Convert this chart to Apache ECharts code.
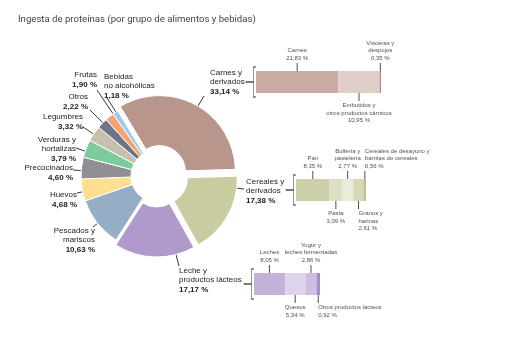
<!DOCTYPE html>
<html>
<head>
<meta charset="utf-8">
<script src="https://cdn.jsdelivr.net/npm/echarts@6/dist/echarts.min.js"></script>
<style>
    html, body { margin: 0; padding: 0; background: #fff; }
    #chart { width: 527px; height: 354px; }
</style>
</head>
<body>
<div id="chart"></div>
<script>
/* Ingesta de proteínas: anillo principal + tres desgloses en barra */

// grupos del anillo (en sentido horario desde Carnes)
const grupos = ['Carnes y\nderivados', 'Cereales y\nderivados', 'Leche y\nproductos lácteos',
    'Pescados y\nmariscos', 'Huevos', 'Precocinados', 'Verduras y\nhortalizas',
    'Legumbres', 'Otros', 'Frutas', 'Bebidas\nno alcohólicas'];
const valores = [33.14, 17.38, 17.17, 10.63, 4.68, 4.60, 3.79, 3.32, 2.22, 1.90, 1.18];

// desglose de carnes
const carnesSub = ['Carnes', 'Embutidos y\notros productos cárnicos', 'Vísceras y\ndespojos'];
const carnesVal = [21.83, 10.95, 0.35];

// desglose de cereales
const cerealesSub = ['Pan', 'Pasta', 'Bollería y\npastelería', 'Granos y\nharinas', 'Cereales de desayuno y\nbarritas de cereales'];
const cerealesVal = [8.35, 3.09, 2.77, 2.61, 0.56];

// desglose de leche
const lecheSub = ['Leches', 'Quesos', 'Yogur y\nleches fermentadas', 'Otros productos lácteos'];
const lecheVal = [8.05, 5.34, 2.86, 0.92];

/* estilos */
const FUENTE = '"Liberation Sans", Arial, sans-serif';
const TINTA = '#222';
const DESPLAZA = 5; // separación de los tres grupos grandes

const coloresGrupo = ['#b8968b', '#c9cba0', '#b09acb', '#95aec5', '#fde08f', '#909094',
    '#7ccb9c', '#c6c1ad', '#6e758a', '#f5a46f', '#9dc9ef'];

// etiquetas del anillo: [x, y superior, alineación, fin de la guía x, fin de la guía y]
const posEtiqueta = [
    [210, 68, 'left', 204, 96], [246, 177, 'left', 244, 189], [179, 266, 'left', 179, 266],
    [95, 226, 'right', 93, 227], [77, 190, 'right', 77, 193], [73, 163, 'right', 73, 170],
    [76, 135, 'right', 76, 148], [83, 112, 'right', 83, 127], [88, 92, 'right', 90, 110],
    [97, 70, 'right', 97, 90], [104, 72, 'left', 107, 98]
];

// cada desglose: rejilla, colores, lado de la marca y alineación del texto
const desgloses = [
    { nombres: carnesSub, vals: carnesVal, grid: { left: 256, top: 71, width: 125, height: 22 },
      colores: ['#c9aba3', '#e0cec9', '#b3887d'], arriba: [true, false, true],
      alinea: ['center', 'center', 'center'] },
    { nombres: cerealesSub, vals: cerealesVal, grid: { left: 296, top: 179, width: 70, height: 22 },
      colores: ['#cdcfa8', '#dedfc5', '#eaebd8', '#d5d7b7', '#bcbf90'], arriba: [true, false, true, false, true],
      alinea: ['center', 'center', 'center', 'left', 'left'] },
    { nombres: lecheSub, vals: lecheVal, grid: { left: 254, top: 273, width: 66, height: 22 },
      colores: ['#c2b1d9', '#ddd3ea', '#ccbee0', '#a98dca'], arriba: [true, false, true, false],
      alinea: ['center', 'center', 'center', 'left'] }
];

function pct(v) {
    return v.toFixed(2).replace('.', ',') + ' %';
}

function lineas(txt, tag) {
    return txt.split('\n').map(s => `{${tag}|${s}}`).join('\n');
}

const chartDom = document.getElementById('chart');
const chart = echarts.init(chartDom);

/*
    Punto del borde exterior del sector más cercano al final de la guía.
    Usa la disposición que calculó el propio ECharts para la serie visible.
*/
function inicioGuia(idx, fin, porDefecto) {
    let lay = null;
    try {
        lay = chart.getModel().getSeriesByIndex(0).getData().getItemLayout(idx);
    } catch (e) {
        lay = null;
    }
    if (!lay) return porDefecto;
    let a0 = Math.min(lay.startAngle, lay.endAngle);
    let a1 = Math.max(lay.startAngle, lay.endAngle);
    const mid = (a0 + a1) / 2;
    let cx = lay.cx, cy = lay.cy;
    if (idx < 3) {
        cx += Math.cos(mid) * DESPLAZA;
        cy += Math.sin(mid) * DESPLAZA;
    }
    let t = Math.atan2(fin[1] - cy, fin[0] - cx);
    while (t < mid - Math.PI) t += Math.PI * 2;
    while (t > mid + Math.PI) t -= Math.PI * 2;
    t = Math.max(a0, Math.min(a1, t));
    return [cx + Math.cos(t) * lay.r, cy + Math.sin(t) * lay.r];
}

const grids = [];
const xAxes = [];
const yAxes = [];
const series = [];

const anillo = {
    center: [157, 176],
    radius: [26, 76],
    startAngle: 121,
    clockwise: true
};

// anillo visible (con los tres grupos grandes separados)
series.push(Object.assign({
    type: 'pie',
    selectedMode: 'multiple',
    selectedOffset: DESPLAZA,
    silent: true,
    itemStyle: { borderColor: '#fff', borderWidth: 1 },
    label: { show: false },
    labelLine: { show: false },
    data: grupos.map((g, i) => ({
        name: g,
        value: valores[i],
        selected: i < 3,
        itemStyle: { color: coloresGrupo[i] }
    }))
}, anillo));

// mismo anillo, transparente, solo para etiquetas y guías
series.push(Object.assign({
    type: 'pie',
    silent: true,
    avoidLabelOverlap: false,
    itemStyle: { color: 'rgba(0,0,0,0)', borderWidth: 0 },
    data: grupos.map((g, i) => ({ name: g, value: valores[i] })),
    label: {
        show: true,
        position: 'outside',
        formatter: p => lineas(p.name, 'n') + '\n' + `{v|${pct(p.value)}}`,
        rich: {
            n: { fontFamily: FUENTE, fontSize: 8, lineHeight: 9.5, color: TINTA },
            v: { fontFamily: FUENTE, fontSize: 8, lineHeight: 10, fontWeight: 'bold', color: TINTA }
        }
    },
    labelLine: { show: true, length: 6, length2: 4, lineStyle: { color: TINTA, width: 0.9 } },
    labelLayout: function (p) {
        const q = posEtiqueta[p.dataIndex];
        const fin = [q[3], q[4]];
        const ini = inicioGuia(p.dataIndex, fin, p.labelLinePoints[0]);
        return {
            x: q[0], y: q[1], align: q[2], verticalAlign: 'top',
            labelLinePoints: [ini, fin]
        };
    }
}, anillo));

desgloses.forEach((d, g) => {
    const total = d.vals.reduce((a, b) => a + b, 0);
    grids.push(d.grid);
    xAxes.push({ type: 'value', gridIndex: g, min: 0, max: total, show: false });
    yAxes.push({ type: 'category', gridIndex: g, data: ['x'], show: false });

    // segmentos de la barra
    d.vals.forEach((v, i) => {
        series.push({
            type: 'bar',
            xAxisIndex: g,
            yAxisIndex: g,
            stack: 'd' + g,
            barWidth: d.grid.height,
            data: [v],
            itemStyle: { color: d.colores[i] },
            silent: true
        });
    });

    // marcas y textos de cada segmento
    let acum = 0;
    const marcas = d.vals.map((v, i) => {
        const mid = acum + v / 2;
        acum += v;
        const arriba = d.arriba[i];
        return {
            value: [mid, 0],
            name: d.nombres[i],
            symbolOffset: [0, arriba ? -15 : 15],
            label: { position: arriba ? 'top' : 'bottom', align: d.alinea[i] }
        };
    });
    series.push({
        type: 'scatter',
        xAxisIndex: g,
        yAxisIndex: g,
        symbol: 'rect',
        symbolSize: [1, 8],
        itemStyle: { color: TINTA },
        silent: true,
        z: 5,
        data: marcas,
        label: {
            show: true,
            distance: 1,
            formatter: p => lineas(p.name, 't') + '\n' + `{t|${pct(d.vals[p.dataIndex])}}`,
            rich: {
                t: { fontFamily: FUENTE, fontSize: 6, lineHeight: 7.5, color: TINTA }
            }
        }
    });

    // corchete a la izquierda de la barra
    series.push({
        type: 'scatter',
        xAxisIndex: g,
        yAxisIndex: g,
        symbol: 'path://M10,0L8,0L8,30L10,30M8,15L0,15',
        symbolSize: [10, 30],
        symbolOffset: [-5.4, 0],
        symbolKeepAspect: false,
        itemStyle: { color: 'rgba(0,0,0,0)', borderColor: TINTA, borderWidth: 1 },
        silent: true,
        z: 5,
        data: [[0, 0]]
    });
});

chart.setOption({
    animation: false,
    backgroundColor: '#fff',
    title: {
        text: 'Ingesta de proteínas (por grupo de alimentos y bebidas)',
        left: 13,
        top: 10,
        textStyle: { fontFamily: 'Roboto, sans-serif', fontSize: 9.6, fontWeight: 'normal', color: '#444' }
    },
    grid: grids,
    xAxis: xAxes,
    yAxis: yAxes,
    series: series
});
</script>
</body>
</html>
